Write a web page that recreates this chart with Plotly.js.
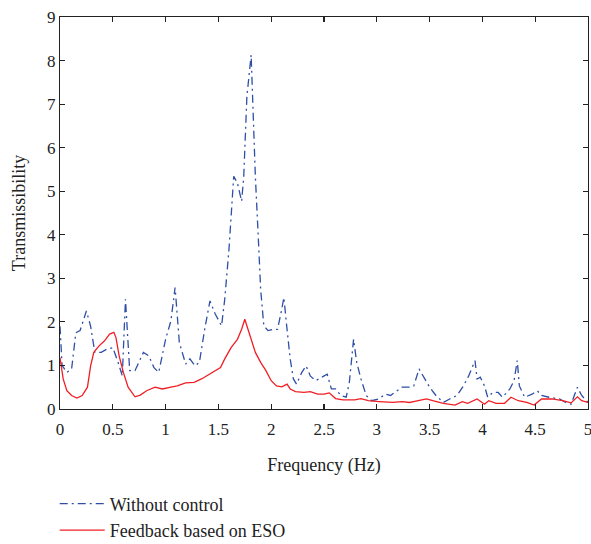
<!DOCTYPE html>
<html>
<head>
<meta charset="utf-8">
<script src="https://cdn.plot.ly/plotly-3.0.1.min.js"></script>
<style>html,body{margin:0;padding:0;background:#fff;}#chart{width:591px;height:544px;}</style>
</head>
<body>
<div id="chart"></div>
<script>
const freqBlue = [0,0.02,0.065,0.11,0.15,0.19,0.25,0.29,0.33,0.39,0.44,0.5,0.55,0.59,0.62,0.635,0.66,0.71,0.79,0.84,0.89,0.935,1.0,1.05,1.09,1.13,1.19,1.23,1.28,1.32,1.37,1.42,1.47,1.53,1.56,1.6,1.645,1.68,1.72,1.74,1.77,1.81,1.82,1.85,1.88,1.9,1.93,1.97,2.02,2.06,2.1,2.12,2.15,2.18,2.21,2.24,2.29,2.33,2.37,2.42,2.48,2.53,2.57,2.61,2.66,2.71,2.74,2.78,2.81,2.85,2.9,2.95,3.02,3.08,3.13,3.19,3.24,3.31,3.35,3.4,3.44,3.5,3.56,3.63,3.69,3.76,3.82,3.87,3.93,3.95,3.98,4.02,4.05,4.1,4.15,4.19,4.26,4.3,4.33,4.35,4.4,4.47,4.52,4.56,4.63,4.73,4.79,4.84,4.87,4.9,4.94,5.0];
const withoutControl = [1.9,1.0,0.84,0.92,1.75,1.8,2.25,1.9,1.3,1.3,1.37,1.41,1.07,0.76,2.52,1.83,0.88,0.88,1.3,1.22,0.95,0.84,1.6,2.02,2.79,1.53,1.03,1.15,0.99,1.07,1.83,2.48,2.18,1.91,2.52,3.66,5.34,5.19,4.77,5.34,7.18,8.13,7.4,5.34,3.82,2.75,1.91,1.8,1.83,1.83,2.29,2.56,1.83,1.15,0.69,0.57,0.84,0.99,0.76,0.65,0.73,0.8,0.46,0.46,0.31,0.27,0.61,1.6,1.07,0.69,0.31,0.19,0.23,0.34,0.31,0.42,0.5,0.5,0.53,0.92,0.76,0.5,0.31,0.15,0.23,0.31,0.53,0.76,1.11,0.69,0.73,0.53,0.27,0.38,0.38,0.27,0.46,0.65,1.11,0.53,0.27,0.34,0.42,0.31,0.27,0.23,0.15,0.11,0.31,0.5,0.31,0.15];

const freqRed = [0,0.03,0.065,0.11,0.16,0.21,0.26,0.29,0.32,0.37,0.42,0.47,0.51,0.53,0.56,0.6,0.645,0.71,0.76,0.82,0.9,0.97,1.05,1.11,1.19,1.27,1.34,1.42,1.52,1.56,1.62,1.68,1.72,1.75,1.77,1.81,1.85,1.9,1.95,2.0,2.05,2.1,2.15,2.18,2.23,2.31,2.37,2.44,2.5,2.55,2.61,2.68,2.79,2.85,2.92,3.02,3.15,3.24,3.31,3.37,3.47,3.53,3.63,3.74,3.81,3.86,3.95,4.02,4.06,4.13,4.21,4.27,4.34,4.42,4.49,4.56,4.66,4.76,4.84,4.9,4.94,5.0];
const feedbackESO = [1.18,0.69,0.42,0.31,0.25,0.31,0.5,0.99,1.3,1.45,1.56,1.72,1.76,1.64,1.22,0.84,0.5,0.28,0.32,0.42,0.5,0.46,0.5,0.53,0.6,0.61,0.69,0.8,0.95,1.15,1.41,1.6,1.83,2.06,1.91,1.56,1.3,1.07,0.88,0.65,0.53,0.51,0.57,0.46,0.4,0.38,0.4,0.34,0.34,0.37,0.24,0.21,0.21,0.24,0.19,0.17,0.15,0.17,0.15,0.18,0.23,0.19,0.13,0.09,0.17,0.13,0.23,0.11,0.19,0.13,0.13,0.27,0.19,0.15,0.09,0.23,0.23,0.19,0.14,0.28,0.19,0.15];

const xTicks = [0,0.5,1,1.5,2,2.5,3,3.5,4,4.5,5];
const xTickText = ["0","0.5","1","1.5","2","2.5","3","3.5","4","4.5","5"];
const yTicks = [0,1,2,3,4,5,6,7,8,9];

const FAM = "Times New Roman, Liberation Serif, DejaVu Serif, serif";
const font = {family: FAM, size: 17, color: "#222"};

const traces = [
  {x: freqBlue, y: withoutControl, type: "scatter", mode: "lines", name: "Without control",
   line: {color: "#2f4fa6", width: 1.3, dash: "8px,4px,2px,4px"}},
  {x: freqRed, y: feedbackESO, type: "scatter", mode: "lines", name: "Feedback based on ESO",
   line: {color: "#f01e24", width: 1.3}}
];

const axisCommon = {showline: true, linecolor: "#222", linewidth: 1.2, mirror: "ticks",
  ticks: "inside", ticklen: 5, tickcolor: "#222", tickwidth: 1.2, showgrid: false, zeroline: false,
  tickfont: font, automargin: false, ticklabeloverflow: "allow"};

const layout = {
  width: 591, height: 544,
  margin: {l: 60, r: 3, t: 17, b: 135, autoexpand: false},
  paper_bgcolor: "#fff", plot_bgcolor: "#fff",
  font: font,
  showlegend: true,
  legend: {x: -0.01, xanchor: "left", y: -0.195, yanchor: "top", orientation: "v",
    font: {family: FAM, size: 18, color: "#222"}, bgcolor: "rgba(0,0,0,0)", tracegroupgap: 0, itemwidth: 45},
  xaxis: Object.assign({}, axisCommon, {range: [0, 5], tickvals: xTicks, ticktext: xTickText,
    ticklabelstandoff: 4,
    title: {text: "Frequency (Hz)", font: {family: FAM, size: 18, color: "#222"}, standoff: 20}}),
  yaxis: Object.assign({}, axisCommon, {range: [0, 9], tickvals: yTicks,
    title: {text: "Transmissibility", font: {family: FAM, size: 18, color: "#222"}, standoff: 16}})
};

Plotly.newPlot("chart", traces, layout, {displayModeBar: false, staticPlot: true});
</script>
</body>
</html>
